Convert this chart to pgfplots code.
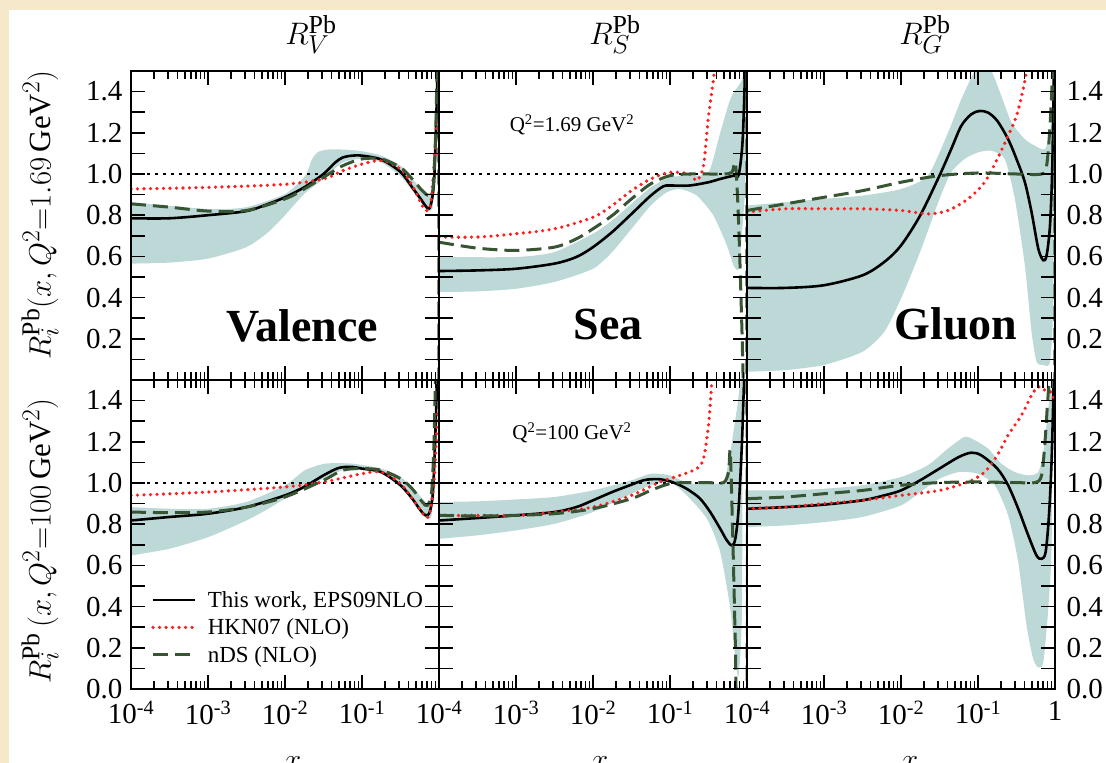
\documentclass[border=0pt]{standalone}
\usepackage{fontspec}
\setmainfont{Liberation Serif}
\usepackage{pgfplots}
\pgfplotsset{compat=1.18}
\definecolor{bgbeige}{RGB}{245,232,203}
\definecolor{bandcol}{RGB}{188,217,215}
\definecolor{hkred}{RGB}{255,30,30}
\definecolor{ndsgreen}{RGB}{55,85,50}
\pgfplotsset{
 mypanel/.style={
  scale only axis, width=308pt, height=309pt, anchor=south west,
  xmin=1e-4, xmax=1, ymin=0, ymax=1.5,
  axis on top, no markers,
  tick align=inside,
  major tick length=14pt, minor tick length=8pt,
  xtick={1e-4,1e-3,1e-2,1e-1,1},
  minor xtick={2e-4,3e-4,4e-4,5e-4,6e-4,7e-4,8e-4,9e-4,2e-3,3e-3,4e-3,5e-3,6e-3,7e-3,8e-3,9e-3,2e-2,3e-2,4e-2,5e-2,6e-2,7e-2,8e-2,9e-2,0.2,0.3,0.4,0.5,0.6,0.7,0.8,0.9},
  ytick={0,0.1,0.2,0.3,0.4,0.5,0.6,0.7,0.8,0.9,1.0,1.1,1.2,1.3,1.4,1.5},
  xtick pos=both, ytick pos=both,
  xticklabels={}, yticklabels={},
  every tick/.style={black, line width=1.6pt},
  axis line style={line width=2pt},
  tick label style={font=\fontsize{29}{34}\selectfont},
 },
 mytoplab/.style={yticklabels={,,0.2,,0.4,,0.6,,0.8,,1.0,,1.2,,1.4,}},
 mybotlab/.style={yticklabels={0.0,,0.2,,0.4,,0.6,,0.8,,1.0,,1.2,,1.4,}},
 myleftlab/.style={yticklabel style={xshift=-5pt}},
 myrightlab/.style={yticklabel pos=right, ytick pos=both, yticklabel style={xshift=8pt}},
 myxlab/.style={xticklabel style={yshift=-9pt}, xticklabels={10\textsuperscript{-4},10\textsuperscript{-3},10\textsuperscript{-2},10\textsuperscript{-1},}},
 myxlabone/.style={xticklabel style={yshift=-9pt}, xticklabels={10\textsuperscript{-4},10\textsuperscript{-3},10\textsuperscript{-2},10\textsuperscript{-1},1}},
 myeps/.style={black, line width=2.6pt, smooth, tension=0.5},
 myhkn/.style={hkred, line width=3.6pt, dash pattern=on 0pt off 6.5pt, line cap=round, smooth, tension=0.5},
 mynds/.style={ndsgreen, line width=3pt, dash pattern=on 15pt off 7pt, smooth, tension=0.5},
 myband/.style={fill=bandcol, draw=none, smooth, tension=0.4, forget plot},
 myunity/.style={black, line width=1.6pt, dash pattern=on 3pt off 5pt, forget plot},
}
\begin{document}
\begin{tikzpicture}
\fill[bgbeige] (0,0) rectangle (1106pt,763pt);
\fill[white] (9pt,0) rectangle (1106pt,753pt);

% ---------------- Top row: Q^2 = 1.69 GeV^2 ----------------
\begin{axis}[xmode=log, mypanel, mytoplab, myleftlab, at={(131pt,383pt)}]
\addplot[myband] coordinates {(1e-4,0.863)(1e-3,0.83)(3.16e-3,0.839)(0.01,0.903)(0.0182,0.99)(0.0223,1.07)(0.0272,1.108)(0.0407,1.12)(0.0905,1.113)(0.178,1.089)(0.316,1.04)(0.449,0.976)(0.67,0.91)(0.818,0.91)(0.861,0.95)
 (0.818,0.83)(0.705,0.823)(0.576,0.863)(0.449,0.919)(0.316,0.99)(0.178,1.056)(0.1,1.073)(0.0562,1.056)(0.0316,0.976)(0.0177,0.903)(0.01,0.8)(6.07e-3,0.718)(3.16e-3,0.645)(1e-3,0.589)(3.16e-4,0.57)(1e-4,0.565)};
\addplot[myunity] coordinates {(1e-4,1)(1,1)};
\addplot[myeps] coordinates {(1e-4,0.785)(3.16e-4,0.785)(1e-3,0.80)(3.16e-3,0.82)(6.07e-3,0.855)(0.01,0.887)(0.0177,0.935)(0.0316,1.0)(0.0449,1.056)(0.0562,1.08)(0.0741,1.089)(0.1,1.089)(0.178,1.07)(0.316,1.01)(0.449,0.935)(0.576,0.88)(0.705,0.835)(0.778,0.847)(0.861,0.96)(0.923,1.28)(0.961,1.55)};
\addplot[myhkn] coordinates {(1e-4,0.927)(1e-3,0.935)(0.01,0.95)(0.0316,0.976)(0.0562,1.016)(0.1,1.048)(0.178,1.065)(0.316,1.024)(0.449,0.944)(0.576,0.863)(0.67,0.823)(0.778,0.847)(0.861,1.04)(0.951,1.266)(1,1.3)};
\addplot[mynds] coordinates {(1e-4,0.855)(3.16e-4,0.839)(1e-3,0.82)(3.16e-3,0.823)(0.01,0.879)(0.0177,0.927)(0.0316,0.984)(0.0562,1.04)(0.1,1.073)(0.178,1.073)(0.316,1.032)(0.449,0.976)(0.607,0.919)(0.741,0.895)(0.835,0.927)(0.905,1.2)(0.951,1.55)(0.99,1.55)(0.995,-0.05)};
\end{axis}

\begin{axis}[xmode=log, mypanel, at={(439pt,383pt)}]
\addplot[myband] coordinates {(1e-4,0.597)(1e-3,0.597)(3.16e-3,0.621)(0.01,0.71)(0.0177,0.774)(0.0316,0.855)(0.0562,0.935)(0.1,0.984)(0.178,0.992)(0.316,1.008)(0.449,1.2)(0.607,1.363)(0.818,1.44)(0.951,1.46)
 (0.951,0.96)(0.861,0.718)(0.778,0.54)(0.67,0.556)(0.548,0.653)(0.367,0.798)(0.223,0.895)(0.135,0.927)(0.0905,0.911)(0.0562,0.847)(0.0316,0.734)(0.0177,0.621)(0.01,0.54)(3.16e-3,0.476)(1e-3,0.443)(3.16e-4,0.43)(1e-4,0.427)};
\addplot[myunity] coordinates {(1e-4,1)(1,1)};
\addplot[myeps] coordinates {(1e-4,0.529)(3.16e-4,0.532)(1e-3,0.54)(3.16e-3,0.565)(6.07e-3,0.597)(0.01,0.645)(0.0177,0.718)(0.0316,0.806)(0.0562,0.895)(0.0818,0.94)(0.1,0.944)(0.178,0.944)(0.316,0.96)(0.449,0.976)(0.67,0.992)(0.778,0.995)(0.861,1.12)(0.905,1.28)(0.951,1.55)};
\addplot[myhkn] coordinates {(1e-4,0.694)(3.16e-4,0.694)(1e-3,0.71)(3.16e-3,0.734)(0.01,0.79)(0.0177,0.847)(0.0316,0.919)(0.0562,0.976)(0.1,1.008)(0.178,1.0)(0.223,0.968)(0.272,1.04)(0.316,1.28)(0.367,1.46)(0.386,1.55)};
\addplot[mynds] coordinates {(1e-4,0.669)(3.16e-4,0.64)(1e-3,0.629)(3.16e-3,0.645)(6.07e-3,0.685)(0.01,0.734)(0.0177,0.798)(0.0316,0.879)(0.0562,0.952)(0.1,0.992)(0.178,1.0)(0.316,1.0)(0.496,1.0)(0.637,1.008)(0.705,1.056)(0.756,0.879)(0.802,0.621)(0.861,0.234)(0.905,-0.05)(0.99,-0.05)(0.995,1.55)};
\end{axis}

\begin{axis}[xmode=log, mypanel, mytoplab, myrightlab, at={(747pt,383pt)}]
\addplot[myband] coordinates {(1e-4,0.847)(3.16e-4,0.863)(1e-3,0.879)(3.16e-3,0.895)(0.01,0.927)(0.0223,0.992)(0.0407,1.2)(0.0607,1.363)(0.0905,1.5)(0.1105,1.53)(0.149,1.5)(0.201,1.379)(0.272,1.25)(0.406,1.169)(0.548,1.137)(0.741,1.12)(0.861,1.2)(0.951,1.36)
 (0.951,0.4)(0.861,0.089)(0.705,0.073)(0.576,0.089)(0.496,0.234)(0.406,0.556)(0.301,0.879)(0.223,1.073)(0.149,1.113)(0.1,1.105)(0.067,1.073)(0.0449,1.008)(0.0316,0.879)(0.0177,0.621)(0.01,0.395)(6.07e-3,0.234)(3.16e-3,0.137)(1e-3,0.073)(3.16e-4,0.048)(1e-4,0.04)};
\addplot[myunity] coordinates {(1e-4,1)(1,1)};
\addplot[myeps] coordinates {(1e-4,0.447)(3.16e-4,0.447)(1e-3,0.46)(3.16e-3,0.508)(6.07e-3,0.573)(0.01,0.653)(0.0177,0.798)(0.0316,0.992)(0.0449,1.121)(0.0607,1.234)(0.0818,1.29)(0.105,1.306)(0.135,1.298)(0.178,1.258)(0.246,1.169)(0.316,1.073)(0.406,0.96)(0.496,0.815)(0.607,0.637)(0.705,0.581)(0.778,0.605)(0.861,0.75)(0.923,1.04)(0.97,1.55)};
\addplot[myhkn] coordinates {(1e-4,0.815)(3.16e-4,0.831)(1e-3,0.831)(3.16e-3,0.831)(0.01,0.823)(0.0223,0.806)(0.0407,0.823)(0.0741,0.879)(0.122,0.96)(0.178,1.073)(0.246,1.185)(0.316,1.282)(0.386,1.411)(0.427,1.5)(0.45,1.55)};
\addplot[mynds] coordinates {(1e-4,0.823)(3.16e-4,0.855)(1e-3,0.887)(3.16e-3,0.919)(0.01,0.96)(0.0316,0.992)(0.1,1.005)(0.316,1.0)(0.67,1.0)(0.778,1.04)(0.861,1.234)(0.951,1.55)(0.99,1.55)(0.995,-0.05)};
\end{axis}

% ---------------- Bottom row: Q^2 = 100 GeV^2 ----------------
\begin{axis}[xmode=log, mypanel, mybotlab, myleftlab, myxlab, at={(131pt,74pt)},
  legend style={at={(0.065,0.075)}, anchor=south west, draw=none, fill=none,
    font=\fontsize{23}{27}\selectfont, inner sep=0pt, row sep=6pt},
  legend cell align=left,
  legend image code/.code={\draw[#1] (0pt,0pt) -- (42pt,0pt); \path (51pt,0pt);}]
\addplot[myband] coordinates {(1e-4,0.883)(3.16e-4,0.875)(1e-3,0.875)(3.16e-3,0.908)(0.01,0.989)(0.0182,1.062)(0.0333,1.094)(0.0741,1.094)(0.178,1.07)(0.316,1.029)(0.449,0.981)(0.607,0.924)(0.741,0.9)(0.835,0.99)
 (0.802,0.843)(0.705,0.827)(0.576,0.859)(0.449,0.916)(0.316,0.981)(0.178,1.045)(0.1,1.062)(0.0562,1.062)(0.0316,1.021)(0.0177,0.972)(0.01,0.924)(6.07e-3,0.875)(3.16e-3,0.818)(1e-3,0.737)(3.16e-4,0.681)(1e-4,0.648)};
\addplot[myunity] coordinates {(1e-4,1)(1,1)};
\addplot[myeps] coordinates {(1e-4,0.818)(3.16e-4,0.835)(1e-3,0.851)(3.16e-3,0.883)(0.01,0.94)(0.0177,0.981)(0.0316,1.037)(0.0497,1.073)(0.0741,1.078)(0.1,1.07)(0.178,1.053)(0.316,0.989)(0.449,0.924)(0.576,0.867)(0.67,0.843)(0.756,0.859)(0.835,0.956)(0.905,1.28)(0.951,1.55)};
\addlegendentry{This work, EPS09NLO}
\addplot[myhkn] coordinates {(1e-4,0.94)(1e-3,0.956)(0.01,0.981)(0.0316,1.005)(0.1,1.045)(0.178,1.053)(0.316,0.997)(0.449,0.924)(0.576,0.867)(0.67,0.835)(0.756,0.851)(0.861,1.005)(0.951,1.313)(1,1.36)};
\addlegendentry{HKN07 (NLO)}
\addplot[mynds] coordinates {(1e-4,0.859)(3.16e-4,0.856)(1e-3,0.859)(3.16e-3,0.883)(0.01,0.932)(0.0316,1.013)(0.0562,1.062)(0.1,1.07)(0.178,1.062)(0.316,1.021)(0.449,0.972)(0.607,0.908)(0.705,0.891)(0.802,0.956)(0.861,1.2)(0.905,1.55)};
\addlegendentry{nDS (NLO)}
\end{axis}

\begin{axis}[xmode=log, mypanel, myxlab, at={(439pt,74pt)}]
\addplot[myband] coordinates {(1e-4,0.908)(3.16e-4,0.911)(1e-3,0.92)(3.16e-3,0.932)(0.01,0.964)(0.0316,1.013)(0.0562,1.045)(0.1,1.037)(0.178,0.997)(0.333,0.997)(0.496,1.005)(0.607,1.15)(0.741,1.36)(0.861,1.47)
 (0.861,0.389)(0.778,0.065)(0.705,0.146)(0.607,0.389)(0.449,0.665)(0.301,0.827)(0.165,0.94)(0.1,1.005)(0.0562,0.989)(0.0316,0.948)(0.01,0.859)(3.16e-3,0.802)(1e-3,0.77)(3.16e-4,0.746)(1e-4,0.729)};
\addplot[myunity] coordinates {(1e-4,1)(1,1)};
\addplot[myeps] coordinates {(1e-4,0.818)(3.16e-4,0.83)(1e-3,0.843)(3.16e-3,0.859)(6.07e-3,0.883)(0.01,0.916)(0.0177,0.956)(0.0316,0.992)(0.0449,1.013)(0.0562,1.018)(0.0741,1.018)(0.1,1.008)(0.135,0.989)(0.178,0.964)(0.246,0.924)(0.333,0.859)(0.449,0.778)(0.548,0.721)(0.637,0.697)(0.705,0.729)(0.778,0.875)(0.861,1.2)(0.923,1.55)};
\addplot[myhkn] coordinates {(1e-4,0.843)(1e-3,0.843)(3.16e-3,0.859)(0.01,0.883)(0.0316,0.94)(0.0741,1.005)(0.135,1.037)(0.223,1.07)(0.272,1.118)(0.316,1.28)(0.349,1.49)(0.36,1.55)};
\addplot[mynds] coordinates {(1e-4,0.843)(3.16e-4,0.84)(1e-3,0.843)(3.16e-3,0.851)(0.01,0.875)(0.0316,0.924)(0.0562,0.964)(0.1,0.997)(0.178,1.002)(0.316,1.002)(0.496,1.002)(0.576,1.053)(0.607,1.15)(0.656,0.713)(0.705,0.227)(0.741,-0.05)(0.99,-0.05)(0.995,1.55)};
\end{axis}

\begin{axis}[xmode=log, mypanel, mybotlab, myrightlab, myxlabone, at={(747pt,74pt)}]
\addplot[myband] coordinates {(1e-4,0.964)(3.16e-4,0.964)(1e-3,0.972)(3.16e-3,0.989)(0.01,1.029)(0.0223,1.086)(0.0407,1.167)(0.067,1.224)(0.0905,1.208)(0.135,1.167)(0.201,1.094)(0.301,1.053)(0.449,1.037)(0.607,1.053)(0.705,1.15)(0.818,1.36)(0.905,1.45)
 (0.905,0.71)(0.818,0.39)(0.705,0.13)(0.607,0.105)(0.521,0.146)(0.427,0.308)(0.333,0.616)(0.246,0.843)(0.165,0.989)(0.1,1.045)(0.0562,1.053)(0.0316,1.021)(0.0177,0.956)(0.01,0.891)(3.16e-3,0.835)(1e-3,0.81)(3.16e-4,0.794)(1e-4,0.786)};
\addplot[myunity] coordinates {(1e-4,1)(1,1)};
\addplot[myeps] coordinates {(1e-4,0.875)(3.16e-4,0.883)(1e-3,0.895)(3.16e-3,0.916)(6.07e-3,0.94)(0.01,0.964)(0.0177,1.013)(0.0316,1.07)(0.0562,1.126)(0.0818,1.147)(0.1105,1.134)(0.178,1.07)(0.246,0.989)(0.333,0.875)(0.449,0.746)(0.576,0.648)(0.67,0.632)(0.756,0.665)(0.835,0.843)(0.905,1.118)(0.97,1.55)};
\addplot[myhkn] coordinates {(1e-4,0.875)(3.16e-4,0.883)(1e-3,0.9)(3.16e-3,0.916)(0.01,0.94)(0.0316,0.964)(0.0741,1.005)(0.122,1.053)(0.178,1.134)(0.246,1.232)(0.367,1.329)(0.496,1.426)(0.607,1.467)(0.741,1.45)(0.905,1.44)(0.98,1.39)};
\addplot[mynds] coordinates {(1e-4,0.924)(3.16e-4,0.932)(1e-3,0.948)(3.16e-3,0.964)(0.01,0.989)(0.0316,1.002)(0.1,1.005)(0.316,1.002)(0.548,1.002)(0.67,1.037)(0.741,1.2)(0.802,1.394)(0.861,1.55)};
\end{axis}

% ---------------- Texts ----------------
\node[anchor=base, scale=1.25] at (311pt,718pt) {\fontsize{24.88}{30}\selectfont $R_V^{\mathrm{Pb}}$};
\node[anchor=base, scale=1.25] at (615pt,718pt) {\fontsize{24.88}{30}\selectfont $R_S^{\mathrm{Pb}}$};
\node[anchor=base, scale=1.25] at (925pt,718pt) {\fontsize{24.88}{30}\selectfont $R_G^{\mathrm{Pb}}$};

\node[rotate=90, scale=1.24] at (40pt,548pt) {\fontsize{24.88}{30}\selectfont $R_i^{\mathrm{Pb}}(x,Q^2{=}1.69\,\mathrm{GeV}^2)$};
\node[rotate=90, scale=1.24] at (40pt,222pt) {\fontsize{24.88}{30}\selectfont $R_i^{\mathrm{Pb}}\,(x,Q^2{=}100\,\mathrm{GeV}^2)$};

\node[anchor=base] at (302pt,421pt) {\fontsize{46}{50}\selectfont\bfseries Valence};
\node[anchor=base] at (608pt,423pt) {\fontsize{46}{50}\selectfont\bfseries Sea};
\node[anchor=base] at (956pt,423pt) {\fontsize{46}{50}\selectfont\bfseries Gluon};

\node[anchor=base] at (572pt,631pt) {\fontsize{21}{25}\selectfont Q\textsuperscript{2}=1.69 GeV\textsuperscript{2}};
\node[anchor=base] at (572pt,323pt) {\fontsize{21}{25}\selectfont Q\textsuperscript{2}=100 GeV\textsuperscript{2}};

\node[anchor=base, scale=1.2] at (293pt,-7pt) {\fontsize{24.88}{30}\selectfont $x$};
\node[anchor=base, scale=1.2] at (600pt,-7pt) {\fontsize{24.88}{30}\selectfont $x$};
\node[anchor=base, scale=1.2] at (910pt,-7pt) {\fontsize{24.88}{30}\selectfont $x$};

\pgfresetboundingbox
\path[use as bounding box] (0,0) rectangle (1106pt,763pt);
\end{tikzpicture}
\end{document}
